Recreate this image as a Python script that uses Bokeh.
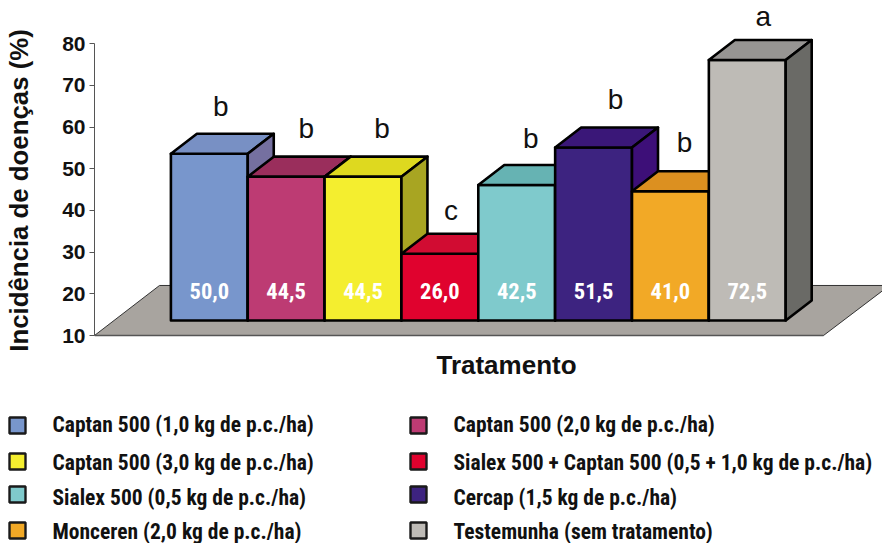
from bokeh.plotting import figure
from bokeh.models import Range1d, FixedTicker
from bokeh.core.properties import value
from bokeh.embed import file_html
from bokeh.resources import INLINE

# ---- data ----
values = [50.0, 44.5, 44.5, 26.0, 42.5, 51.5, 41.0, 72.5]
value_labels = ["50,0", "44,5", "44,5", "26,0", "42,5", "51,5", "41,0", "72,5"]
letters = ["b", "b", "b", "c", "b", "b", "b", "a"]
front_colors = ["#7896CC", "#BD3B73", "#F4EE2F", "#E0022E", "#7FCACC", "#3D2380", "#F2A926", "#BEBBB6"]
top_colors = ["#7890C4", "#9A2E5C", "#DED91F", "#D10C32", "#66B3B3", "#3A1778", "#DC9020", "#979593"]
side_colors = ["#7570A0", "#9A2E5C", "#A8A522", "#D10C32", "#66B3B3", "#3D0F78", "#DC9020", "#6A6A66"]
legend_labels = [
    "Captan 500 (1,0 kg de p.c./ha)", "Captan 500 (2,0 kg de p.c./ha)",
    "Captan 500 (3,0 kg de p.c./ha)", "Sialex 500 + Captan 500 (0,5 + 1,0 kg de p.c./ha)",
    "Sialex 500 (0,5 kg de p.c./ha)", "Cercap (1,5 kg de p.c./ha)",
    "Monceren (2,0 kg de p.c./ha)", "Testemunha (sem tratamento)",
]
y_ticks = [10, 20, 30, 40, 50, 60, 70, 80]
y_title = "Incidência de doenças (%)"
x_title = "Tratamento"

# ---- geometry of the pseudo 3D plot (data units) ----
PX_X = 76.85         # one bar wide, in px
PX_Y = 4.169         # one unit of the value axis, in px
X0 = 170.4           # px of the first bar's left edge
LEFT = (94 - X0) / PX_X
RIGHT = (882 - X0) / PX_X
FRAME_H = 380        # the frame runs on below the floor so that the axis title centres right
Y_START = 10 - (FRAME_H - 335) / PX_Y
Y_END = 10 + 335 / PX_Y
LIFT = 3.6           # front plane sits above the axis floor edge
DX, DY = 26 / PX_X, 20 / PX_Y
BAR_INK = 2.6
BOLD = "Liberation Sans"
NARROW = "Roboto Condensed"
SPLIT = FRAME_H

p = figure(width=882, height=SPLIT, output_backend="svg", toolbar_location=None,
           x_range=Range1d(LEFT, RIGHT), y_range=Range1d(Y_START, Y_END),
           min_border_left=94, min_border_right=0, min_border_top=0, min_border_bottom=0,
           outline_line_color=None, background_fill_color="white", border_fill_color="white")
p.grid.visible = False
p.xaxis.visible = False

# value axis
ya = p.yaxis[0]
ya.ticker = FixedTicker(ticks=y_ticks)
ya.bounds = (10, 80)
ya.axis_line_color = "#555555"
ya.major_tick_line_color = "#555555"
ya.major_tick_in = 0
ya.major_tick_out = 5
ya.minor_tick_line_color = None
ya.major_label_standoff = 4
ya.major_label_text_font = BOLD
ya.major_label_text_font_style = "bold"
ya.major_label_text_font_size = "21px"
ya.major_label_text_color = "#111111"
ya.axis_label = y_title
ya.axis_label_text_font = BOLD
ya.axis_label_text_font_style = "bold"
ya.axis_label_text_font_size = "25.8px"
ya.axis_label_text_color = "#111111"
ya.axis_label_standoff = 26

# floor
floor_right = (823 - X0) / PX_X
p.patch([LEFT, floor_right, (889 - X0) / PX_X, (159 - X0) / PX_X],
        [10, 10, 22.0, 22.0], fill_color="#A8A49F", line_color="#333333", line_width=1)
p.segment([LEFT], [10], [floor_right], [10], line_color="#555555", line_width=1.5)

# bars, painted left to right
xs, ys, fills = [], [], []
for i, v in enumerate(values):
    t = v + LIFT
    b = 10 + LIFT
    xs += [[i, i + 1, i + 1, i], [i, i + 1, i + 1 + DX, i + DX], [i + 1, i + 1 + DX, i + 1 + DX, i + 1]]
    ys += [[b, b, t, t], [t, t, t + DY, t + DY], [b, b + DY, t + DY, t]]
    fills += [front_colors[i], top_colors[i], side_colors[i]]
p.patches(xs, ys, fill_color=fills, line_color="black", line_width=BAR_INK, line_join="round")

# values inside the bars
centers = [i + 0.5 for i in range(len(values))]
p.text(centers, [18.2] * len(values), text=value_labels, text_align="center", text_baseline="alphabetic",
       y_offset=-10, text_font=value(NARROW), text_font_style="bold", text_font_size="22.5px", text_color="white")

# significance letters over the bars
nudge_x = [11.5, 20, 19, 11, 14, 22, 14, 16]
nudge_y = [36, 37, 37, 32, 35, 37, 38, 32]
p.text([i + 0.5 + n / PX_X for i, n in enumerate(nudge_x)],
       [v + LIFT + n / PX_Y for v, n in zip(values, nudge_y)],
       text=letters, text_align="center", text_baseline="alphabetic", y_offset=-11,
       text_font=value(BOLD), text_font_size="28px", text_color="#111111")

# axis title of the categories
p.text([(506 - X0) / PX_X], [10 - (372 - 335) / PX_Y], text=[x_title], text_align="center",
       text_baseline="alphabetic", y_offset=-8,
       text_font=value(BOLD), text_font_style="bold", text_font_size="26px", text_color="#111111")

# ---- legend, in a strip of its own ----
q = figure(width=882, height=543 - SPLIT, output_backend="svg", toolbar_location=None,
           x_range=Range1d(0, 882), y_range=Range1d(543, SPLIT),
           min_border=0, outline_line_color=None, background_fill_color="white", border_fill_color="white")
q.axis.visible = False
q.grid.visible = False
row_y = [425, 461, 494, 530]
base_y = [432, 470, 505, 539]
col_sw = [17, 418]
col_tx = [52, 453]
sx = [col_sw[i % 2] for i in range(8)]
sy = [row_y[i // 2] for i in range(8)]
tx = [col_tx[i % 2] for i in range(8)]
ty = [base_y[i // 2] for i in range(8)]
q.scatter(sx, sy, marker="square", size=16, fill_color=front_colors, line_color="#1a1a1a", line_width=2.4)
q.text(tx, ty, text=legend_labels, text_baseline="alphabetic", y_offset=-8.5,
       text_font=value(NARROW), text_font_style="bold", text_font_size="21.5px", text_color="#111111")

open("out.html", "w").write(file_html([p, q], INLINE))
